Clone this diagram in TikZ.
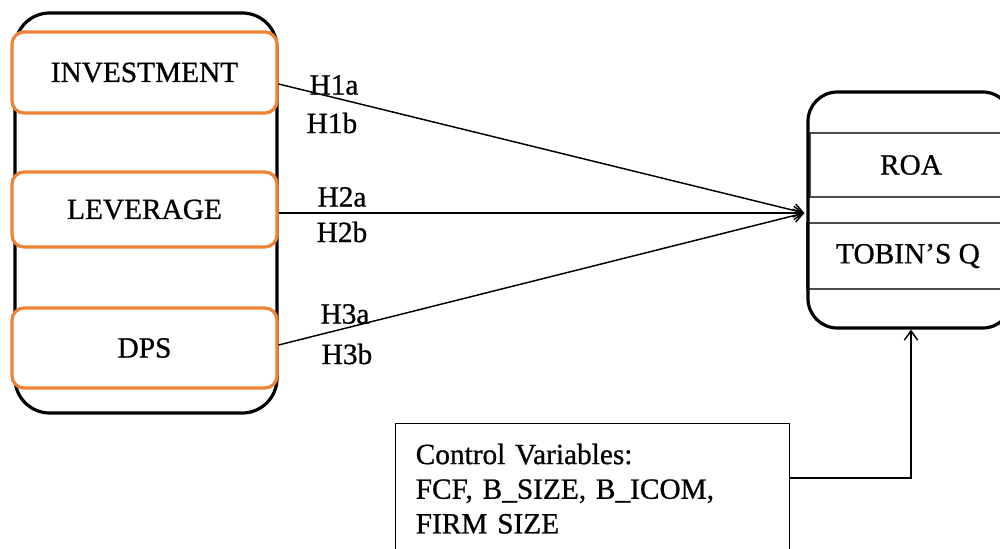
\documentclass[tikz,border=0pt]{standalone}
\usepackage{fontspec}
\setmainfont[FakeBold=0.8,AutoFakeBold=0.8]{Liberation Serif}
\usetikzlibrary{arrows.meta,calc}
\definecolor{boxorange}{HTML}{EE8335}
\begin{document}
\begin{tikzpicture}[x=0.75pt,y=-0.75pt,
  font=\fontsize{22}{26}\selectfont\bfseries,
  outerbox/.style={draw=black, line width=2.4pt, inner sep=0pt},
  varbox/.style={draw=boxorange, line width=2.4pt, rounded corners=9pt, minimum width=198.75pt, fill=white, inner sep=0pt},
  depbox/.style={draw=black!70, line width=1.3pt, inner sep=0pt, minimum width=151.5pt},
  ctrlbox/.style={draw=black, line width=1.1pt, align=left, anchor=north west, inner xsep=15pt, inner ysep=15pt, text width=265.5pt},
  hlabel/.style={inner sep=0pt},
  arr/.style={draw=black, line width=1.1pt, -{Straight Barb[length=7pt,width=10pt]}},
]
\useasboundingbox (0,0) rectangle (1000,549);
\clip (0,0) rectangle (1000,549);

% left group
\node[outerbox, rounded corners=26pt, minimum width=196.5pt, minimum height=300pt] (indep) at (146,213) {};
\node[varbox, minimum height=60.75pt] (inv) at (144.5,72.5) {INVESTMENT};
\node[varbox, minimum height=56.25pt] (lev) at (144.5,209.5) {LEVERAGE};
\node[varbox, minimum height=60pt] (dps) at (144.5,348) {DPS};

% right group
\node[depbox, minimum height=48pt] (roa) at (911,165) {ROA};
\node[depbox, minimum height=49.5pt] (tobin) at (908,256) {TOBIN'S Q};
\node[outerbox, rounded corners=22pt, minimum width=153pt, minimum height=177pt] (dep) at (910,210) {};

% control box
\node[ctrlbox] (ctrl) at (395,423) {Control Variables:\\FCF, B\_SIZE, B\_ICOM,\\FIRM SIZE};

% connectors
\coordinate (tgt) at ($(dep.west)+(-2,3)$);
\draw[arr] ($(inv.east)+(0,11.5)$) -- (tgt);
\draw[arr] ($(lev.east)+(0,3.5)$) -- (tgt);
\draw[arr] ($(dps.east)+(0,-3)$) -- (tgt);
\draw[arr] ($(ctrl.north east)+(0,55)$) -| ($(dep.south)+(1,0)$);

% labels
\node[hlabel] (h1a) at (334,85) {H1a};
\node[hlabel] (h1b) at (332,123) {H1b};
\node[hlabel] (h2a) at (342,197) {H2a};
\node[hlabel] (h2b) at (342,232) {H2b};
\node[hlabel] (h3a) at (345,314) {H3a};
\node[hlabel] (h3b) at (347,354) {H3b};
\end{tikzpicture}
\end{document}
